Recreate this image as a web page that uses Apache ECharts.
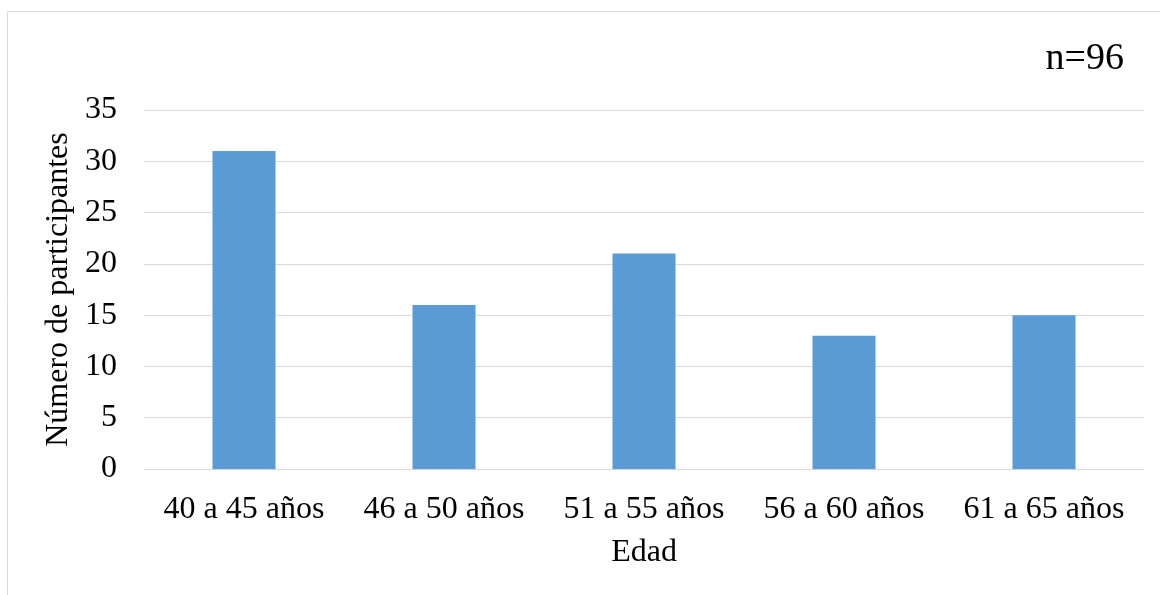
<!DOCTYPE html>
<html><head><meta charset="utf-8">
<script src="https://cdn.jsdelivr.net/npm/echarts@6/dist/echarts.min.js"></script>
<style>html,body{margin:0;padding:0;background:#fff;}#c{width:1160px;height:595px;}</style>
</head><body><div id="c"></div>
<script>
var categories = ['40 a 45 años', '46 a 50 años', '51 a 55 años', '56 a 60 años', '61 a 65 años'];
var participants = [31, 16, 21, 13, 15];
var yTicks = [0, 5, 10, 15, 20, 25, 30, 35];
var note = 'n=96';

var font = 'Liberation Serif';
var chart = echarts.init(document.getElementById('c'));
chart.setOption({
  animation: false,
  backgroundColor: '#fff',
  graphic: [
    { type: 'rect', shape: { x: 7.5, y: 11.5, width: 1170, height: 600 }, style: { fill: 'none', stroke: '#d9d9d9', lineWidth: 1 }, silent: true },
    { type: 'text', right: 36, top: 40, style: { text: note, font: '38px "Liberation Serif"', fill: '#000' } }
  ],
  grid: { left: 144, right: 16, top: 110, bottom: 126 },
  xAxis: {
    type: 'category', data: categories,
    name: 'Edad', nameLocation: 'middle', nameGap: 68,
    nameTextStyle: { fontFamily: font, fontSize: 32, color: '#000' },
    axisLine: { lineStyle: { color: '#d9d9d9', width: 1 } },
    axisTick: { show: false },
    axisLabel: { fontFamily: font, fontSize: 32, color: '#000', margin: 25, interval: 0, hideOverlap: false }
  },
  yAxis: {
    type: 'value', min: 0, max: 35, interval: 5,
    name: 'Número de participantes', nameLocation: 'middle', nameGap: 68,
    nameTextStyle: { fontFamily: font, fontSize: 32, color: '#000' },
    axisLine: { show: false }, axisTick: { show: false },
    splitLine: { lineStyle: { color: '#d9d9d9', width: 1 } },
    axisLabel: { fontFamily: font, fontSize: 32, color: '#000', margin: 27, padding: [6, 0, 0, 0],
      formatter: function (v) { return yTicks.indexOf(v) >= 0 ? String(v) : ''; } }
  },
  series: [{
    type: 'bar', data: participants, barWidth: 63,
    itemStyle: { color: '#5b9bd5' }
  }]
});
</script></body></html>
